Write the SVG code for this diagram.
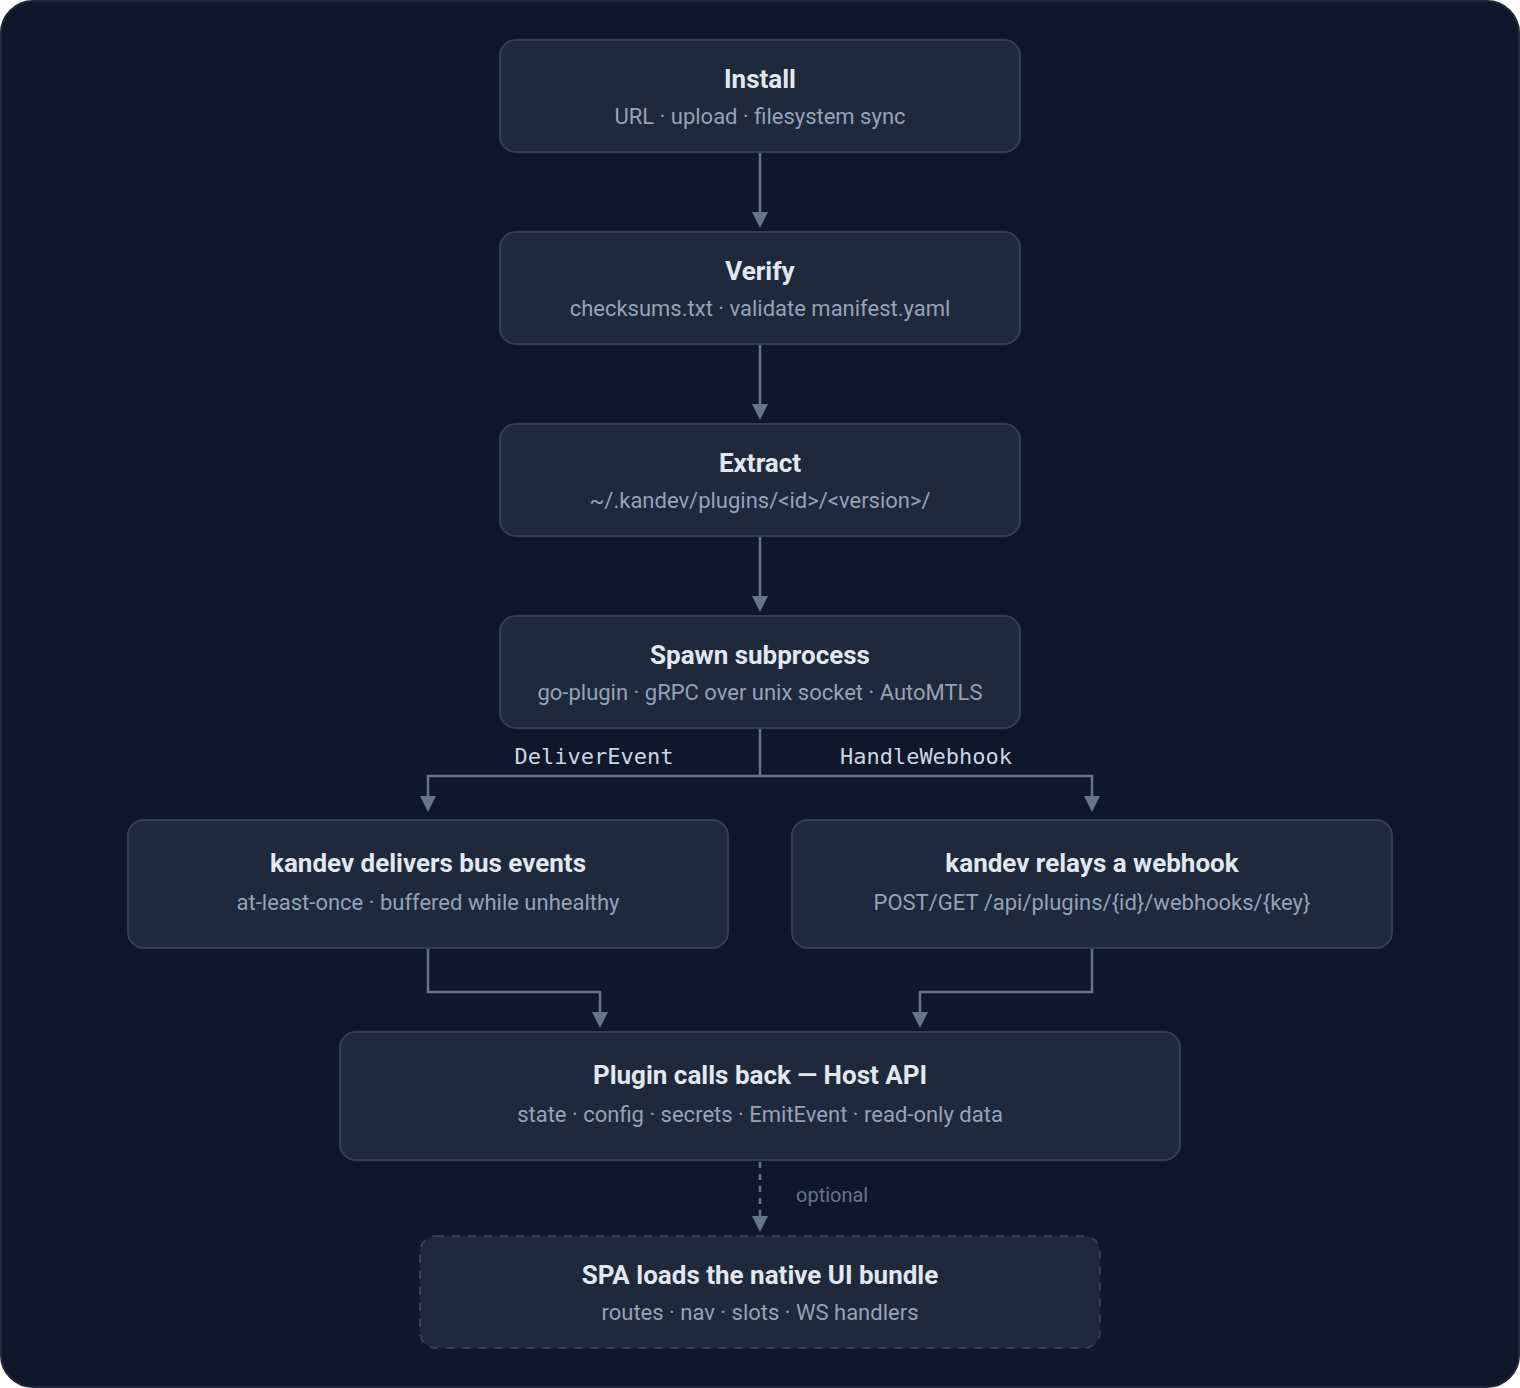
<svg xmlns="http://www.w3.org/2000/svg" width="1520" height="1388" viewBox="0 0 1520 1388">
<style>
.bg{fill:#0f172a;stroke:#1e293b;stroke-width:2}
.node rect{fill:#1e293b;stroke:#334155;stroke-width:2}
.node.dashed rect{stroke-dasharray:8 8}
.t{font-family:Roboto,"Liberation Sans",sans-serif;font-weight:700;font-size:26px;fill:#e2e8f0;text-anchor:middle}
.s{font-family:Roboto,"Liberation Sans",sans-serif;font-size:22px;fill:#94a3b8;text-anchor:middle}
.edge{fill:none;stroke:#64748b;stroke-width:2.5}
.lbl{font-family:"DejaVu Sans Mono",monospace;font-size:22px;fill:#cbd5e1;text-anchor:middle}
.opt{font-family:Roboto,"Liberation Sans",sans-serif;font-size:20px;fill:#64748b}
</style>
<rect class="bg" x="1" y="1" width="1518" height="1386" rx="32"/>
<g id="connectors">
<path class="edge" d="M760 152 V214"/>
<path class="edge" d="M760 344 V406"/>
<path class="edge" d="M760 536 V598"/>
<path class="edge" d="M760 728 V776 H428 V798"/>
<path class="edge" d="M760 776 H1092 V798"/>
<path class="edge" d="M428 948 V992 H600 V1014"/>
<path class="edge" d="M1092 948 V992 H920 V1014"/>
<path class="edge" d="M760 1162 V1218" stroke-dasharray="6 6"/>
<g fill="#64748b">
<path d="M752 212 L768 212 L760 228 Z"/>
<path d="M752 404 L768 404 L760 420 Z"/>
<path d="M752 596 L768 596 L760 612 Z"/>
<path d="M420 796 L436 796 L428 812 Z"/>
<path d="M1084 796 L1100 796 L1092 812 Z"/>
<path d="M592 1012 L608 1012 L600 1028 Z"/>
<path d="M912 1012 L928 1012 L920 1028 Z"/>
<path d="M752 1216 L768 1216 L760 1232 Z"/>
</g>
<text class="lbl" x="594" y="764">DeliverEvent</text>
<text class="lbl" x="926" y="764">HandleWebhook</text>
<text class="opt" x="796" y="1202">optional</text>
</g>
<g id="install" class="node"><rect x="500" y="40" width="520" height="112" rx="16"/><text class="t" x="760" y="88">Install</text><text class="s" x="760" y="124">URL · upload · filesystem sync</text></g>
<g id="verify" class="node"><rect x="500" y="232" width="520" height="112" rx="16"/><text class="t" x="760" y="280">Verify</text><text class="s" x="760" y="316">checksums.txt · validate manifest.yaml</text></g>
<g id="extract" class="node"><rect x="500" y="424" width="520" height="112" rx="16"/><text class="t" x="760" y="472">Extract</text><text class="s" x="760" y="508">~/.kandev/plugins/&lt;id&gt;/&lt;version&gt;/</text></g>
<g id="spawn" class="node"><rect x="500" y="616" width="520" height="112" rx="16"/><text class="t" x="760" y="664">Spawn subprocess</text><text class="s" x="760" y="700">go-plugin · gRPC over unix socket · AutoMTLS</text></g>
<g id="deliver" class="node"><rect x="128" y="820" width="600" height="128" rx="16"/><text class="t" x="428" y="872">kandev delivers bus events</text><text class="s" x="428" y="910">at-least-once · buffered while unhealthy</text></g>
<g id="relay" class="node"><rect x="792" y="820" width="600" height="128" rx="16"/><text class="t" x="1092" y="872">kandev relays a webhook</text><text class="s" x="1092" y="910">POST/GET /api/plugins/{id}/webhooks/{key}</text></g>
<g id="hostapi" class="node"><rect x="340" y="1032" width="840" height="128" rx="16"/><text class="t" x="760" y="1084">Plugin calls back — Host API</text><text class="s" x="760" y="1122">state · config · secrets · EmitEvent · read-only data</text></g>
<g id="spa" class="node dashed"><rect x="420" y="1236" width="680" height="112" rx="16"/><text class="t" x="760" y="1284">SPA loads the native UI bundle</text><text class="s" x="760" y="1320">routes · nav · slots · WS handlers</text></g>
</svg>
